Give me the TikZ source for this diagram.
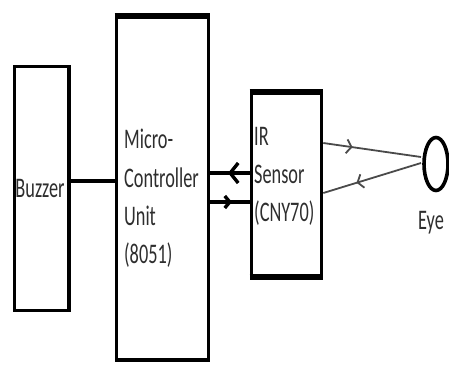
\documentclass[tikz,border=0pt]{standalone}
\usepackage{fontspec}
\setmainfont{Carlito}
\usepackage{graphicx}
\usetikzlibrary{arrows.meta,decorations.markings,shapes.geometric}
\definecolor{ink}{HTML}{2E2E2E}
\definecolor{beam}{HTML}{4A4A4A}
\newcommand{\stretched}[1]{\scalebox{1}[1.55]{\begin{tabular}{@{}l@{}}#1\end{tabular}}}

\tikzset{
  box/.style={draw,line width=3.6pt,inner sep=0pt},
  rim/.style={line width=6pt},
  lbl/.style={text=ink,font=\fontsize{18.3}{24.7}\selectfont,inner sep=0pt},
  plain/.style={line width=3.4pt},
  ray/.style={draw=beam,line width=1.8pt,decoration={markings,mark=at position #1 with {\arrow{Straight Barb[length=5pt,width=14pt]}}},postaction={decorate}}
}

\begin{document}
\begin{tikzpicture}[x=1pt,y=-1pt]
\useasboundingbox (0,0) rectangle (449,364);

% blocks
\node[box,minimum width=54.5pt,minimum height=244pt] (buzzer) at (41.75,188.5) {};
\node[box,minimum width=92pt,minimum height=345pt] (mcu) at (162.5,187.5) {};
\node[box,minimum width=70pt,minimum height=188pt] (ir) at (286.5,184.5) {};
\node[draw,ellipse,line width=3.6pt,inner sep=0pt,minimum width=24pt,minimum height=53pt] (eye) at (436,164) {};

% heavier edges
\draw[rim] ([yshift=-3pt]mcu.north west) -- ([yshift=-3pt]mcu.north east);
\draw[rim] ([yshift=-3pt]ir.north west) -- ([yshift=-3pt]ir.north east);
\draw[rim] ([yshift=3pt]ir.south west) -- ([yshift=3pt]ir.south east);

% labels
\node[lbl] (buzzertxt) at (40,190) {\stretched{Buzzer}};
\node[lbl,anchor=west] (mcutxt) at (124,198.5) {\stretched{Micro-\\Controller\\Unit\\(8051)}};
\node[lbl,anchor=west] (irtxt) at (254,176) {\stretched{IR\\Sensor\\(CNY70)}};
\node[lbl] (eyetxt) at (431,222) {\stretched{Eye}};

% rows of the connectors
\coordinate (rowbuz) at (0,181);
\coordinate (rowin) at (0,173);
\coordinate (rowout) at (0,202);
\coordinate (rayout) at (0,143);
\coordinate (rayin) at (0,193);
\coordinate (hit1) at (421,157);
\coordinate (hit2) at (421,163);

\draw[plain] (buzzer.east |- rowbuz) -- (mcu.west |- rowbuz);
\draw[line width=3.4pt,decoration={markings,mark=at position 0.55 with {\arrow{Straight Barb[length=8pt,width=20pt]}}},postaction={decorate}]
  (ir.west |- rowin) -- (mcu.east |- rowin);
\draw[line width=3.4pt,decoration={markings,mark=at position 0.55 with {\arrow{Straight Barb[length=5pt,width=12pt]}}},postaction={decorate}]
  (mcu.east |- rowout) -- (ir.west |- rowout);
\draw[ray=0.3] (ir.east |- rayout) -- (hit1);
\draw[ray=0.66] (hit2) -- (ir.east |- rayin);
\end{tikzpicture}
\end{document}
